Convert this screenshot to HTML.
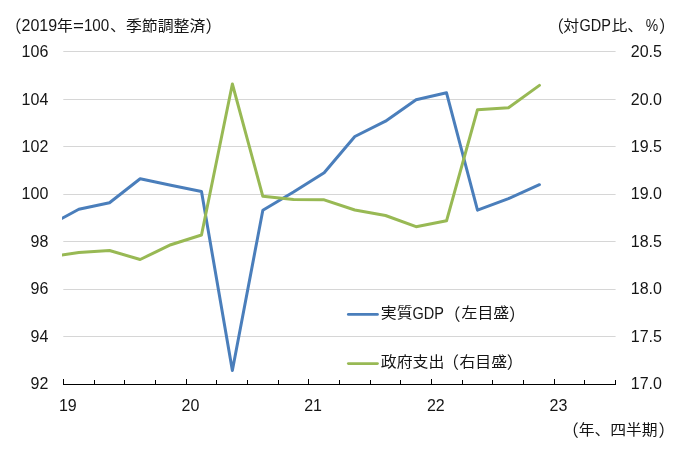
<!DOCTYPE html>
<html lang="ja"><head><meta charset="utf-8"><title>chart</title>
<style>html,body{margin:0;padding:0;background:#fff;}svg{display:block;}text{font-family:"Liberation Sans", "Noto Sans CJK JP", sans-serif;font-size:16px;fill:#151515;}</style></head><body>
<svg width="684" height="456" viewBox="0 0 684 456">
<defs><clipPath id="plot"><rect x="62" y="40" width="560" height="350"/></clipPath></defs>
<rect width="684" height="456" fill="#fff"/>
<line x1="63.3" x2="615.6" y1="51.5" y2="51.5" stroke="#d6d6d6" stroke-width="1"/>
<line x1="63.3" x2="615.6" y1="99.5" y2="99.5" stroke="#d6d6d6" stroke-width="1"/>
<line x1="63.3" x2="615.6" y1="146.5" y2="146.5" stroke="#d6d6d6" stroke-width="1"/>
<line x1="63.3" x2="615.6" y1="194.5" y2="194.5" stroke="#d6d6d6" stroke-width="1"/>
<line x1="63.3" x2="615.6" y1="241.5" y2="241.5" stroke="#d6d6d6" stroke-width="1"/>
<line x1="63.3" x2="615.6" y1="289.5" y2="289.5" stroke="#d6d6d6" stroke-width="1"/>
<line x1="63.3" x2="615.6" y1="336.5" y2="336.5" stroke="#d6d6d6" stroke-width="1"/>
<line x1="63" x2="616" y1="384.5" y2="384.5" stroke="#000" stroke-width="1.1"/>
<line x1="63.5" x2="63.5" y1="379.0" y2="385" stroke="#000" stroke-width="1"/>
<line x1="94.5" x2="94.5" y1="380.0" y2="385" stroke="#000" stroke-width="1"/>
<line x1="124.5" x2="124.5" y1="380.0" y2="385" stroke="#000" stroke-width="1"/>
<line x1="155.5" x2="155.5" y1="380.0" y2="385" stroke="#000" stroke-width="1"/>
<line x1="186.5" x2="186.5" y1="379.0" y2="385" stroke="#000" stroke-width="1"/>
<line x1="216.5" x2="216.5" y1="380.0" y2="385" stroke="#000" stroke-width="1"/>
<line x1="247.5" x2="247.5" y1="380.0" y2="385" stroke="#000" stroke-width="1"/>
<line x1="278.5" x2="278.5" y1="380.0" y2="385" stroke="#000" stroke-width="1"/>
<line x1="308.5" x2="308.5" y1="379.0" y2="385" stroke="#000" stroke-width="1"/>
<line x1="339.5" x2="339.5" y1="380.0" y2="385" stroke="#000" stroke-width="1"/>
<line x1="370.5" x2="370.5" y1="380.0" y2="385" stroke="#000" stroke-width="1"/>
<line x1="400.5" x2="400.5" y1="380.0" y2="385" stroke="#000" stroke-width="1"/>
<line x1="431.5" x2="431.5" y1="379.0" y2="385" stroke="#000" stroke-width="1"/>
<line x1="462.5" x2="462.5" y1="380.0" y2="385" stroke="#000" stroke-width="1"/>
<line x1="492.5" x2="492.5" y1="380.0" y2="385" stroke="#000" stroke-width="1"/>
<line x1="523.5" x2="523.5" y1="380.0" y2="385" stroke="#000" stroke-width="1"/>
<line x1="554.5" x2="554.5" y1="379.0" y2="385" stroke="#000" stroke-width="1"/>
<line x1="584.5" x2="584.5" y1="380.0" y2="385" stroke="#000" stroke-width="1"/>
<line x1="615.5" x2="615.5" y1="380.0" y2="385" stroke="#000" stroke-width="1"/>
<g clip-path="url(#plot)" fill="none" stroke-width="3.0" stroke-linejoin="round" stroke-linecap="round">
<polyline points="48.17,225.88 78.83,209.30 109.50,202.70 140.17,178.80 170.83,185.20 201.50,191.50 232.37,370.50 262.83,210.20 293.50,192.00 324.17,172.80 354.83,136.50 385.50,121.20 416.07,99.80 446.53,92.80 477.50,210.20 508.47,198.60 539.43,184.70" stroke="#4a7ebb"/>
<polyline points="48.17,257.05 78.83,252.50 109.50,250.50 140.17,259.50 170.83,244.70 201.50,235.00 232.37,84.00 262.83,196.30 293.50,199.60 324.17,199.80 354.83,210.00 385.50,215.50 416.07,226.70 446.53,220.80 477.50,109.70 508.47,107.70 539.43,85.40" stroke="#98b954"/>
</g>
<line x1="348.4" x2="377.4" y1="314.4" y2="314.4" stroke="#4a7ebb" stroke-width="2.9" stroke-linecap="round"/>
<line x1="348.4" x2="377.4" y1="363.6" y2="363.6" stroke="#98b954" stroke-width="2.9" stroke-linecap="round"/>
<text x="380.8" y="318.4"><tspan font-size="14.7" textLength="31.8" lengthAdjust="spacingAndGlyphs">実質</tspan><tspan dy="0.4" font-size="15.8" textLength="31.4" lengthAdjust="spacingAndGlyphs">GDP</tspan><tspan dy="2.0" font-size="16.5">（</tspan><tspan dx="1.0" dy="-2.4" font-size="14.7" textLength="47.7" lengthAdjust="spacingAndGlyphs">左目盛</tspan><tspan dx="-0.3" dy="2.4" font-size="16.5">）</tspan></text>
<text x="380.8" y="366.8"><tspan font-size="14.7" textLength="63.6" lengthAdjust="spacingAndGlyphs">政府支出</tspan><tspan dx="-2.0" dy="2.4" font-size="16.5">（</tspan><tspan dx="0.5" dy="-2.4" font-size="14.7" textLength="47.7" lengthAdjust="spacingAndGlyphs">右目盛</tspan><tspan dx="-0.4" dy="2.4" font-size="16.5">）</tspan></text>
<text x="5.0" y="31.0"><tspan dy="2.4" font-size="16.5">（</tspan><tspan dy="-2.4">2019</tspan><tspan font-size="14.7" textLength="15.9" lengthAdjust="spacingAndGlyphs">年</tspan><tspan textLength="10.9" lengthAdjust="spacingAndGlyphs">=</tspan><tspan textLength="25.3" lengthAdjust="spacingAndGlyphs">100</tspan><tspan dx="0.8" font-size="14.7" textLength="95.4" lengthAdjust="spacingAndGlyphs">、季節調整済</tspan><tspan dy="2.4" font-size="16.5">）</tspan></text>
<text x="547.6" y="31.0"><tspan dy="2.4" font-size="16.5">（</tspan><tspan dx="-0.8" dy="-2.4" font-size="14.7" textLength="15.9" lengthAdjust="spacingAndGlyphs">対</tspan><tspan dx="0.4" dy="0.4" font-size="15.8" textLength="31.4" lengthAdjust="spacingAndGlyphs">GDP</tspan><tspan dx="0.4" dy="-0.4" font-size="14.7" textLength="31.8" lengthAdjust="spacingAndGlyphs">比、</tspan><tspan dx="2.5" textLength="12.4" lengthAdjust="spacingAndGlyphs">%</tspan><tspan dx="0.8" dy="2.4" font-size="16.5">）</tspan></text>
<text x="562.2" y="435.0"><tspan dy="2.4" font-size="16.5">（</tspan><tspan dy="-2.4" font-size="14.7" textLength="79.0" lengthAdjust="spacingAndGlyphs">年、四半期</tspan><tspan dx="0.7" dy="2.4" font-size="16.5">）</tspan></text>
<text x="48.3" y="57.05" text-anchor="end">106</text>
<text x="630.8" y="57.05">20.5</text>
<text x="48.3" y="104.51" text-anchor="end">104</text>
<text x="630.8" y="104.51">20.0</text>
<text x="48.3" y="151.97" text-anchor="end">102</text>
<text x="630.8" y="151.97">19.5</text>
<text x="48.3" y="199.43" text-anchor="end">100</text>
<text x="630.8" y="199.43">19.0</text>
<text x="48.3" y="246.89" text-anchor="end">98</text>
<text x="630.8" y="246.89">18.5</text>
<text x="48.3" y="294.35" text-anchor="end">96</text>
<text x="630.8" y="294.35">18.0</text>
<text x="48.3" y="341.81" text-anchor="end">94</text>
<text x="630.8" y="341.81">17.5</text>
<text x="48.3" y="389.27" text-anchor="end">92</text>
<text x="630.8" y="389.27">17.0</text>
<text x="67.8" y="411" text-anchor="middle">19</text>
<text x="190.5" y="411" text-anchor="middle">20</text>
<text x="313.1" y="411" text-anchor="middle">21</text>
<text x="435.8" y="411" text-anchor="middle">22</text>
<text x="558.5" y="411" text-anchor="middle">23</text>
</svg></body></html>
